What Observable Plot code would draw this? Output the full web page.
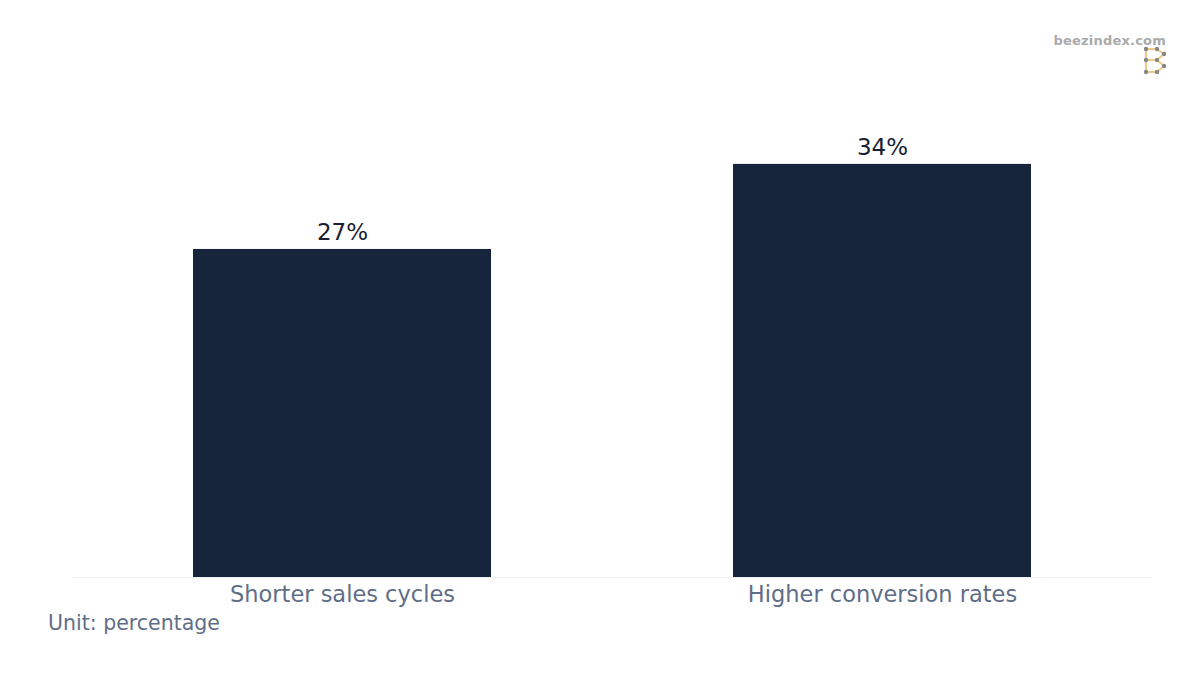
<!DOCTYPE html>
<html>
<head>
<meta charset="utf-8">
<script src="https://cdn.jsdelivr.net/npm/d3@7"></script>
<script src="https://cdn.jsdelivr.net/npm/@observablehq/plot@0.6"></script>
<style>
  html, body { margin: 0; padding: 0; background: #fff; }
  body { width: 1200px; height: 675px; position: relative; overflow: hidden; font-family: "DejaVu Sans", sans-serif; }
  #chart { position: absolute; left: 0; top: 0; }
  #unit { position: absolute; left: 48px; top: 611px; font-size: 20.5px; color: #5f6e88; font-family: "DejaVu Sans", sans-serif; }
  #brand { position: absolute; right: 34px; top: 33px; font-size: 13px; font-weight: bold; color: #aaaaaa; font-family: "DejaVu Sans", sans-serif; letter-spacing: 0.2px; }
  #logo { position: absolute; left: 1142px; top: 46px; }
</style>
</head>
<body>
<div id="chart"></div>
<div id="unit">Unit: percentage</div>
<div id="brand">beezindex.com</div>
<svg id="logo" width="28" height="30" viewBox="0 0 28 30">
  <g stroke="#f0c987" stroke-width="2" fill="none">
    <path d="M4 3 L15 3 L22 8 L15 14 L4 14 M4 3 L4 26 M4 14 L15 14 L22 20 L15 26 L4 26"/>
  </g>
  <g fill="#888">
    <circle cx="4" cy="3" r="2.2"/><circle cx="15" cy="3" r="2.2"/><circle cx="22" cy="8" r="2.2"/>
    <circle cx="4" cy="14" r="2.2"/><circle cx="15" cy="14" r="2.2"/><circle cx="22" cy="20" r="2.2"/>
    <circle cx="4" cy="26" r="2.2"/><circle cx="15" cy="26" r="2.2"/>
  </g>
</svg>
<script>
const categories = ["Shorter sales cycles", "Higher conversion rates"];
const values = [27, 34];
const valueLabels = ["27%", "34%"];

const data = categories.map((c, i) => ({category: c, value: values[i], label: valueLabels[i]}));

const chart = Plot.plot({
  width: 1200,
  height: 675,
  marginTop: 91,
  marginBottom: 98,
  marginLeft: 72,
  marginRight: 48,
  style: {background: "transparent", fontFamily: "DejaVu Sans, sans-serif"},
  x: {domain: categories, paddingInner: 0.448, paddingOuter: 0.224, axis: null},
  y: {domain: [0, 40], axis: null},
  marks: [
    Plot.ruleY([0], {stroke: "#eef0f3", strokeWidth: 1.2}),
    Plot.barY(data, {x: "category", y: "value", fill: "#17253c"}),
    Plot.text(data, {x: "category", y: "value", text: "label", dy: -17, fontSize: 23, fill: "#1a1f33"}),
    Plot.text(data, {x: "category", y: 0, text: "category", dy: 17, fontSize: 22.5, fill: "#5f6e88"})
  ]
});
document.getElementById("chart").appendChild(chart);
</script>
</body>
</html>
